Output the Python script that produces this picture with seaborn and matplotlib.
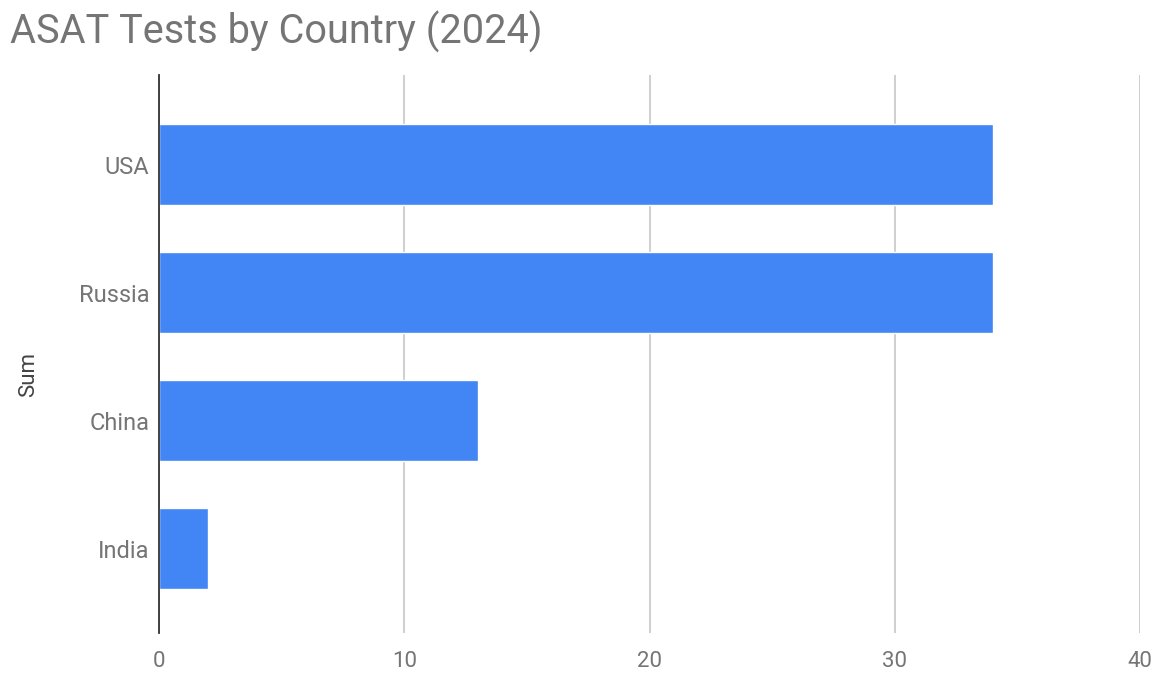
import seaborn as sns
import matplotlib.pyplot as plt

countries = ['USA', 'Russia', 'China', 'India']
tests = [34, 34, 13, 2]
x_ticks = [0, 10, 20, 30, 40]

sns.set_theme(style='white')
plt.rcParams['font.family'] = ['Roboto', 'DejaVu Sans']

fig = plt.figure(figsize=(11.64, 6.73), dpi=100)
ax = fig.add_axes([0.1366, 0.0594, 0.8428, 0.8292])

sns.barplot(x=tests, y=countries, orient='h', color='#4285F4',
            saturation=1, width=0.635, ax=ax, zorder=3)

ax.set_xlim(0, 40)
ax.set_ylim(3.66, -0.7)
ax.set_xticks(x_ticks)
ax.set_xticklabels([str(t) for t in x_ticks])
ax.grid(axis='x', color='#cccccc', linewidth=1.3, zorder=0)
ax.grid(axis='y', visible=False)

for side in ['top', 'right', 'bottom']:
    ax.spines[side].set_visible(False)
ax.spines['left'].set_color('#333333')
ax.spines['left'].set_linewidth(1.3)
ax.spines['left'].set_zorder(4)

ax.tick_params(axis='x', length=0, pad=13, labelsize=16, labelcolor='#757575')
ax.tick_params(axis='y', length=0, pad=7, labelsize=17, labelcolor='#757575')
ax.set_xlabel('')
ax.set_ylabel('')

fig.text(0.0086, 0.953, 'ASAT Tests by Country (2024)', fontsize=28.5,
         color='#757575', ha='left', va='center')
fig.text(0.025, 0.443, 'Sum', fontsize=16, color='#444444',
         rotation=90, ha='center', va='center')

fig.savefig('out.png', dpi=100, facecolor='white')
